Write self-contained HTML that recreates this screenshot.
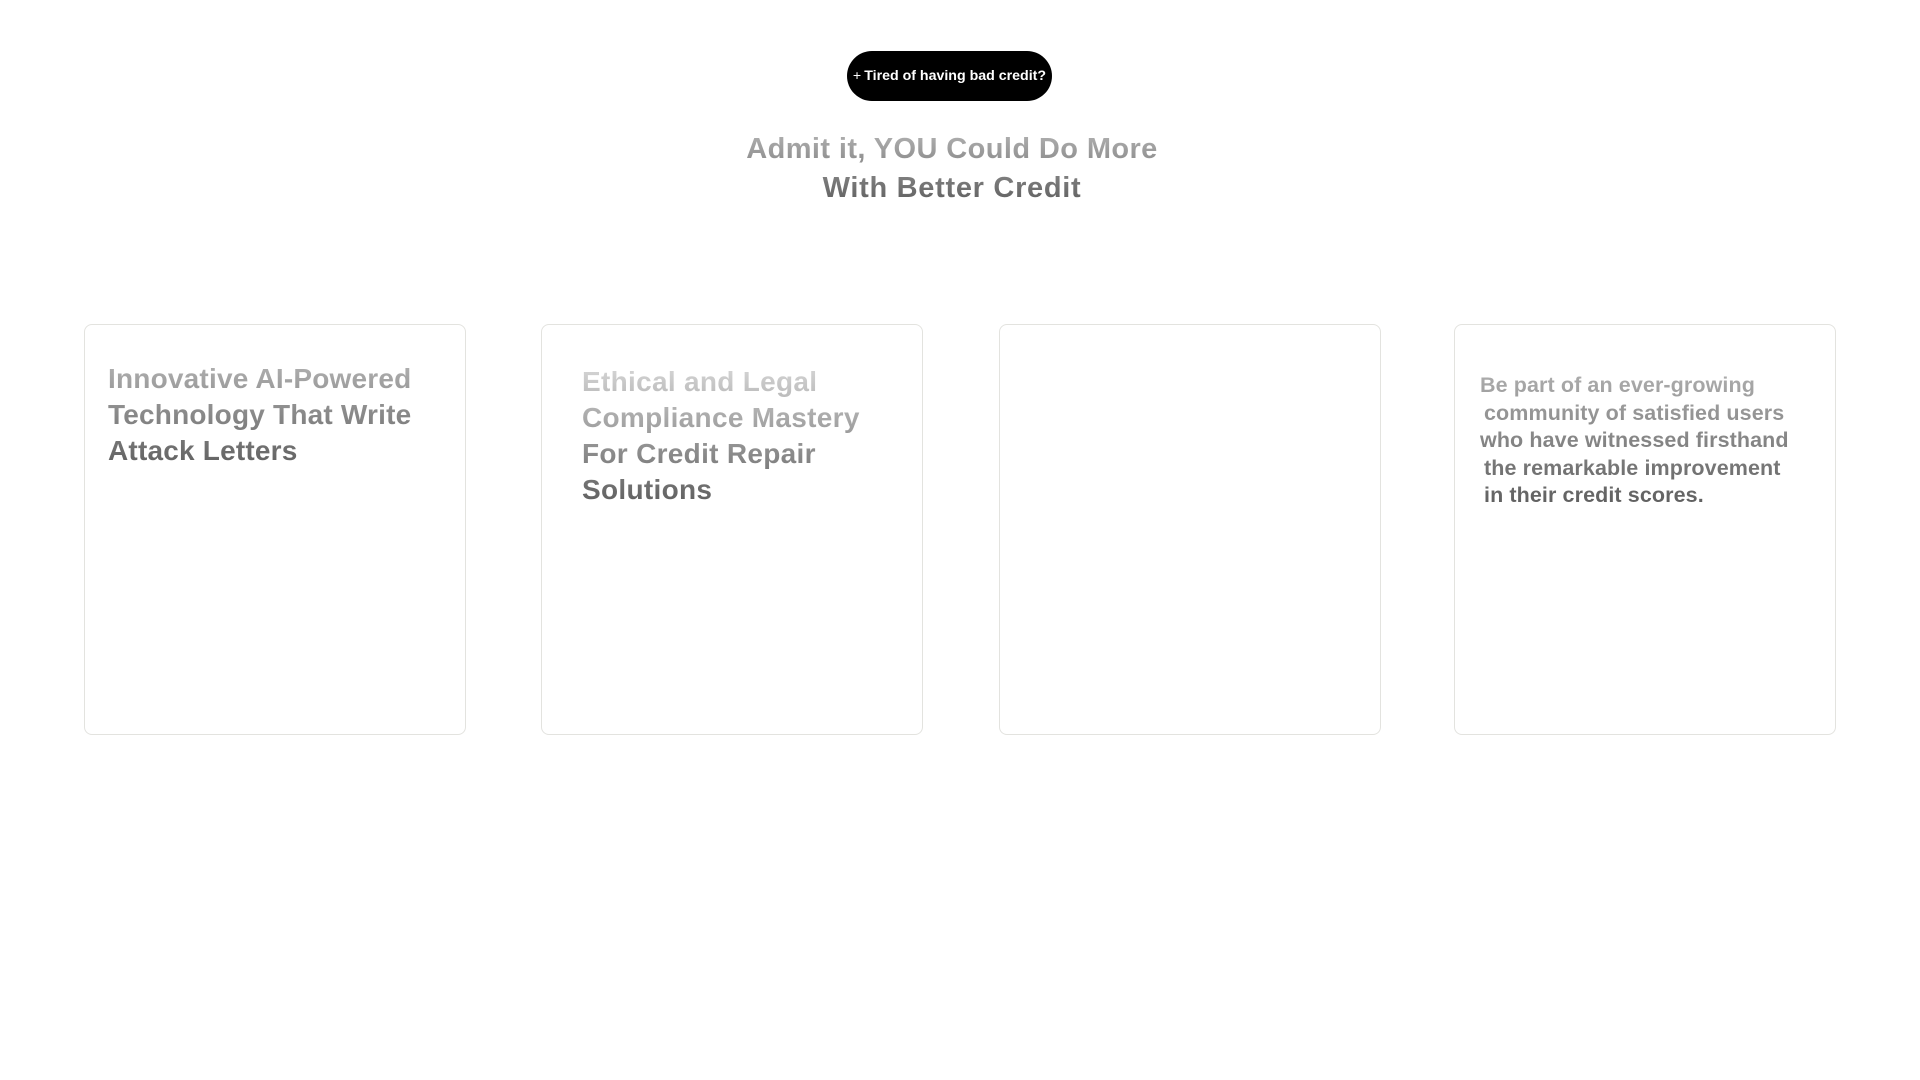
<!DOCTYPE html>
<html>
<head>
<meta charset="utf-8">
<style>
  html,body{margin:0;padding:0;background:#fff;}
  body{width:1920px;height:1080px;position:relative;overflow:hidden;font-family:"Liberation Sans",Arial,sans-serif;}
  .pill{position:absolute;left:847px;top:51px;width:205px;height:50px;border-radius:25px;background:#000;color:#fff;
    font-weight:bold;font-size:14.2px;display:flex;align-items:center;justify-content:center;white-space:nowrap;}
  .pill .plus{font-weight:normal;margin-right:3px;}
  .heading{position:absolute;left:0;top:130px;width:1904px;text-align:center;font-weight:bold;font-size:29px;line-height:39px;letter-spacing:0.4px;}
  .heading span{display:inline-block;background:linear-gradient(#b4b4b4,#5a5a5a);-webkit-background-clip:text;background-clip:text;color:transparent;}
  .heading .l2{letter-spacing:0.7px;}
  .card{position:absolute;top:324px;width:380px;height:409px;border:1px solid #e3e3df;border-radius:8px;background:#fff;}
  .t{position:absolute;font-weight:bold;white-space:pre;-webkit-background-clip:text;background-clip:text;color:transparent;}
  .t1{left:108px;top:361px;font-size:28px;line-height:36px;letter-spacing:0.2px;background-image:linear-gradient(#b2b2b2,#5f5f5f);}
  .t2{left:582px;top:364px;font-size:28px;line-height:36px;letter-spacing:0.3px;background-image:linear-gradient(#d8d8d8,#5c5c5c);}
  .t4{left:1480px;top:372px;font-size:21.5px;line-height:27.5px;letter-spacing:0.1px;background-image:linear-gradient(#aeaeae,#5c5c5c);}
  .ind{padding-left:4px;}
</style>
</head>
<body>
  <div class="pill"><span class="plus">+</span>Tired of having bad credit?</div>
  <div class="heading"><span>Admit it, YOU Could Do More<br><span class="l2" style="background:none;-webkit-background-clip:border-box;color:inherit;">With Better Credit</span></span></div>

  <div class="card" style="left:84px;"></div>
  <div class="card" style="left:541px;"></div>
  <div class="card" style="left:999px;"></div>
  <div class="card" style="left:1454px;"></div>

  <div class="t t1">Innovative AI-Powered
Technology That Write
Attack Letters</div>

  <div class="t t2">Ethical and Legal
Compliance Mastery
For Credit Repair
Solutions</div>

  <div class="t t4">Be part of an ever-growing
<span class="ind">community of satisfied users</span>
who have witnessed firsthand
<span class="ind">the remarkable improvement</span>
<span class="ind">in their credit scores.</span></div>
</body>
</html>
